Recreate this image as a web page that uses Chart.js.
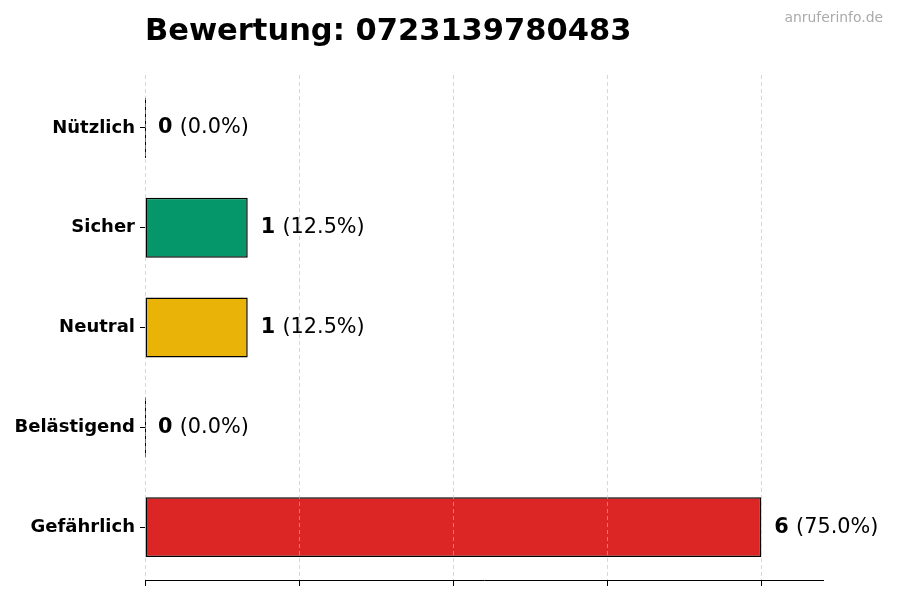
<!DOCTYPE html>
<html>
<head>
<meta charset="utf-8">
<script src="https://cdn.jsdelivr.net/npm/chart.js@4"></script>
<style>
  body { margin: 0; background: #fff; }
  canvas { display: block; }
</style>
</head>
<body>
<canvas id="grafico" width="900" height="600"></canvas>
<script>
// Daten
var kategorien = ["Nützlich", "Sicher", "Neutral", "Belästigend", "Gefährlich"];
var werte = [0, 1, 1, 0, 6];
var farben = ["#3b82f6", "#059669", "#eab308", "#f97316", "#dc2626"];
var xTicks = [0, 1.5, 3, 4.5, 6];
var titel = "Bewertung: 0723139780483";
var quelle = "anruferinfo.de";

Chart.defaults.font.family = "'DejaVu Sans', sans-serif";

var summe = werte.reduce(function (a, b) { return a + b; }, 0);

// Titel, Wasserzeichen, Werte-Beschriftungen
var beschriftung = {
  id: "beschriftung",
  afterDatasetsDraw: function (chart) {
    // Balken mit Wert 0 nur als Kante zeichnen
    var ctx = chart.ctx;
    var meta = chart.getDatasetMeta(0);
    ctx.save();
    ctx.strokeStyle = "#000";
    ctx.lineWidth = 1;
    meta.data.forEach(function (el, i) {
      if (werte[i] !== 0) return;
      var x = Math.round(el.x) + 0.5;
      ctx.beginPath();
      ctx.moveTo(x, el.y - el.height / 2);
      ctx.lineTo(x, el.y + el.height / 2);
      ctx.stroke();
    });
    ctx.restore();
  },
  afterDraw: function (chart) {
    var ctx = chart.ctx;
    var area = chart.chartArea;
    ctx.save();
    ctx.fillStyle = "#000";
    ctx.textBaseline = "alphabetic";
    ctx.textAlign = "left";
    ctx.font = "bold 30.5px 'DejaVu Sans'";
    ctx.fillText(titel, area.left, 40);

    ctx.fillStyle = "#aaaaaa";
    ctx.textAlign = "right";
    ctx.font = "13.9px 'DejaVu Sans'";
    ctx.fillText(quelle, 883, 22);

    var meta = chart.getDatasetMeta(0);
    ctx.textAlign = "left";
    ctx.textBaseline = "middle";
    meta.data.forEach(function (el, i) {
      var prozent = summe ? (werte[i] / summe * 100).toFixed(1) : "0.0";
      var x = el.x + 13;
      ctx.fillStyle = "#000";
      ctx.font = "bold 20.8px 'DejaVu Sans'";
      var zahl = String(werte[i]);
      ctx.fillText(zahl, x, el.y);
      x += ctx.measureText(zahl + " ").width;
      ctx.font = "20.8px 'DejaVu Sans'";
      ctx.fillText("(" + prozent + "%)", x, el.y);
    });
    ctx.restore();
  }
};

var graf = document.getElementById("grafico").getContext("2d");
var grafico = new Chart(graf, {
  type: "bar",
  data: {
    labels: kategorien,
    datasets: [
      {
        label: "Anzahl",
        data: werte,
        backgroundColor: farben,
        borderColor: "#000",
        borderWidth: 1.5,
        borderSkipped: false,
        barPercentage: 0.6,
        categoryPercentage: 1.0
      }
    ]
  },
  options: {
    indexAxis: "y",
    responsive: false,
    animation: false,
    layout: {
      padding: { left: 0, right: 77, top: 75, bottom: 14 }
    },
    plugins: {
      legend: { display: false },
      title: { display: false },
      tooltip: { enabled: false }
    },
    scales: {
      x: {
        min: 0,
        max: 6.6,
        afterBuildTicks: function (scale) {
          scale.ticks = xTicks.map(function (v) { return { value: v }; });
        },
        ticks: { display: false },
        grid: {
          color: "rgba(190,190,190,0.6)",
          lineWidth: 1,
          z: 1,
          drawTicks: true,
          tickLength: 6,
          tickColor: "#000",
          tickBorderDash: []
        },
        border: { display: true, color: "#000", width: 1, dash: [4, 3], z: 1 }
      },
      y: {
        afterBuildTicks: function (scale) {
          // etwas Rand wie bei matplotlib (5 %)
          scale._startValue = -0.53;
          scale._valueRange = kategorien.length + 0.06;
        },
        afterFit: function (scale) {
          scale.width = 145;
        },
        ticks: {
          color: "#000",
          padding: 5,
          font: { size: 18, weight: "bold" }
        },
        grid: {
          offset: false,
          drawOnChartArea: false,
          drawTicks: true,
          tickLength: 5,
          tickColor: "#000"
        },
        border: { display: false }
      }
    }
  },
  plugins: [beschriftung]
});
</script>
</body>
</html>
